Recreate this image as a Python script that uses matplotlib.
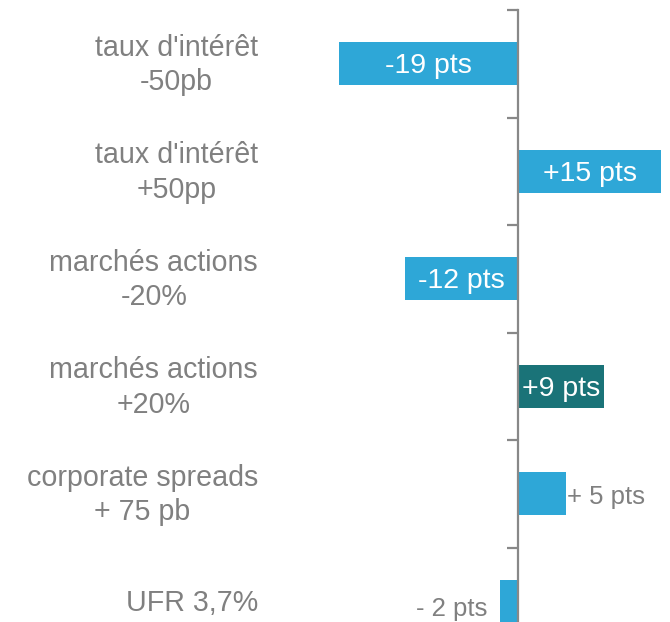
import matplotlib
matplotlib.use("Agg")
import matplotlib.pyplot as plt
import matplotlib.transforms as mtransforms

categories = ["taux d'intérêt\n-50pb", "taux d'intérêt\n+50pp", "marchés actions\n-20%",
              "marchés actions\n+20%", "corporate spreads\n+ 75 pb", "UFR 3,7%"]
values = [-19, 15, -12, 9, 5, -2]
bar_labels = ["-19 pts", "+15 pts", "-12 pts", "+9 pts", "+ 5 pts", "- 2 pts"]
colors = ["#2ea7d7", "#2ea7d7", "#2ea7d7", "#1a7378", "#2ea7d7", "#2ea7d7"]
inside = [True, True, True, True, False, False]

plt.rcParams['font.family'] = ['Liberation Sans', 'DejaVu Sans']
W, H = 670, 622
fig = plt.figure(figsize=(W / 100, H / 100), dpi=100)
top_px, bot_px = 10, 655
ax = fig.add_axes([0, 1 - bot_px / H, 1, (bot_px - top_px) / H])

scale = 9.47
zero_px = 518.5
ax.set_xlim(-zero_px / scale, (W - zero_px) / scale)
n = len(categories)
ax.set_ylim(n - 0.5, -0.5)

ypos = list(range(n))
ax.barh(ypos, values, height=0.4, color=colors, zorder=2)

grey = "#808080"
for y, v, lab, ins in zip(ypos, values, bar_labels, inside):
    if ins:
        ax.text(v / 2, y + 0.025, lab, ha='center', va='center', color='white', fontsize=20.5, zorder=3)
    elif v > 0:
        ax.text(v + 0.1, y + 0.03, lab, ha='left', va='center', color=grey, fontsize=18.5, zorder=3)
    else:
        ax.text(v - 1.3, y + 0.07, lab, ha='right', va='center', color=grey, fontsize=18.5, zorder=3)

trans = mtransforms.blended_transform_factory(fig.transFigure, ax.transData)
for y, c in zip(ypos, categories):
    ax.text(258 / W, y + 0.012, c, transform=trans, ha='right', va='center', multialignment='center',
            color=grey, fontsize=20.6, linespacing=1.28)

for s in ['top', 'right', 'bottom']:
    ax.spines[s].set_visible(False)
ax.spines['left'].set_position(('data', 0))
ax.spines['left'].set_color('#888888')
ax.spines['left'].set_linewidth(1.6)
ax.set_xticks([])
ax.set_yticks([i - 0.5 for i in range(n + 1)])
ax.set_yticklabels([])
ax.tick_params(axis='y', length=8, width=1.6, color='#888888', direction='out')
ax.patch.set_alpha(0)

fig.savefig("out.png", dpi=100)
